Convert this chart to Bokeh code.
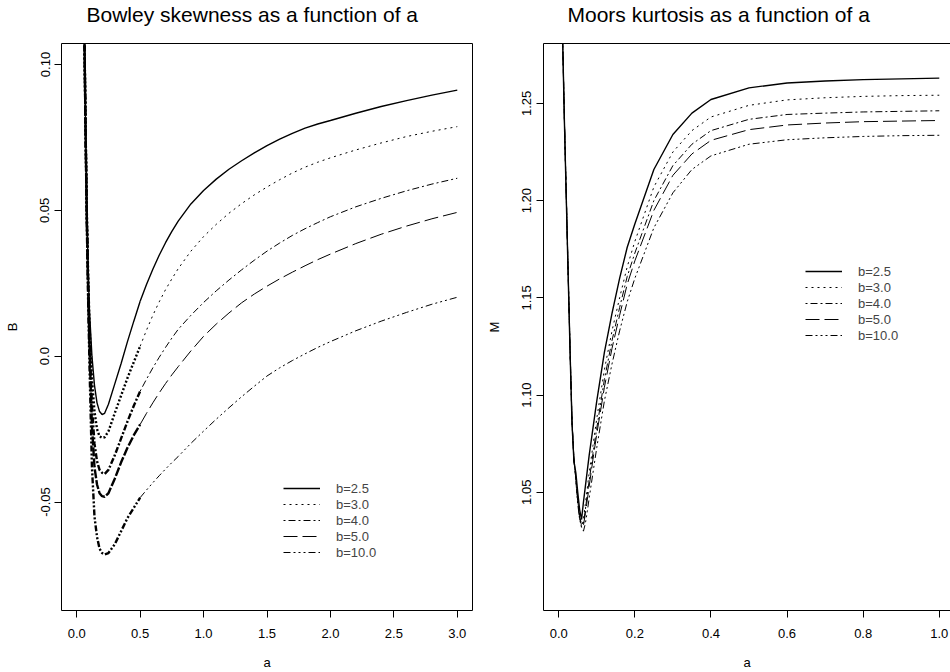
from bokeh.plotting import figure
from bokeh.models import Range1d, FixedTicker, Legend, LegendItem, LinearAxis, Title
from bokeh.layouts import row
from bokeh.embed import file_html
from bokeh.resources import INLINE

# ---------------- data ----------------
b_labels = ["b=2.5", "b=3.0", "b=4.0", "b=5.0", "b=10.0"]

# Bowley skewness panel
a_bowley = [0.06, 0.07, 0.08, 0.09, 0.10, 0.12, 0.14, 0.16, 0.18, 0.20, 0.22, 0.25,
            0.30, 0.35, 0.40, 0.45, 0.50, 0.55, 0.60, 0.65, 0.70, 0.75, 0.80, 0.90,
            1.00, 1.10, 1.20, 1.30, 1.40, 1.50, 1.60, 1.70, 1.80, 1.90, 2.00, 2.20,
            2.40, 2.60, 2.80, 3.00]
B_b25 = [0.112, 0.078, 0.050, 0.030, 0.016, 0.000, -0.010, -0.016, -0.019, -0.020, -0.0196, -0.0165,
         -0.0095, -0.0025, 0.0050, 0.0120, 0.0188, 0.0246, 0.0298, 0.0346, 0.0389, 0.0428, 0.0463, 0.0522,
         0.0568, 0.0607, 0.0641, 0.0670, 0.0697, 0.0722, 0.0744, 0.0764, 0.0782, 0.0796, 0.0808, 0.0833,
         0.0856, 0.0876, 0.0895, 0.0912]
B_b30 = [0.112, 0.078, 0.049, 0.028, 0.012, -0.008, -0.019, -0.025, -0.0275, -0.028, -0.0278, -0.0258,
         -0.0195, -0.0135, -0.0075, -0.0020, 0.0034, 0.0089, 0.0140, 0.0186, 0.0228, 0.0265, 0.0300, 0.0360,
         0.0410, 0.0452, 0.0490, 0.0523, 0.0553, 0.0580, 0.0605, 0.0628, 0.0648, 0.0665, 0.0680, 0.0707,
         0.0731, 0.0753, 0.0771, 0.0787]
B_b40 = [0.112, 0.077, 0.047, 0.025, 0.007, -0.017, -0.030, -0.036, -0.039, -0.040, -0.0404, -0.0390,
         -0.0340, -0.0282, -0.0224, -0.0170, -0.0120, -0.0079, -0.0040, -0.0004, 0.0030, 0.0062, 0.0092, 0.0140,
         0.0184, 0.0224, 0.0261, 0.0296, 0.0329, 0.0360, 0.0388, 0.0414, 0.0437, 0.0458, 0.0478, 0.0512,
         0.0541, 0.0567, 0.0590, 0.0610]
B_b50 = [0.112, 0.077, 0.046, 0.023, 0.004, -0.024, -0.038, -0.044, -0.047, -0.048, -0.0482, -0.0470,
         -0.0420, -0.0364, -0.0314, -0.0271, -0.0234, -0.0196, -0.0160, -0.0126, -0.0094, -0.0064, -0.0036, 0.0018,
         0.0068, 0.0110, 0.0148, 0.0183, 0.0213, 0.0240, 0.0265, 0.0288, 0.0310, 0.0331, 0.0350, 0.0386,
         0.0418, 0.0446, 0.0471, 0.0493]
B_b100 = [0.112, 0.076, 0.044, 0.019, -0.002, -0.038, -0.055, -0.062, -0.066, -0.0675, -0.068, -0.0675,
          -0.0645, -0.0600, -0.0555, -0.0520, -0.0485, -0.0459, -0.0434, -0.0410, -0.0387, -0.0365, -0.0344, -0.0299,
          -0.0257, -0.0216, -0.0177, -0.0139, -0.0103, -0.0068, -0.0040, -0.0015, 0.0008, 0.0030, 0.0050, 0.0087,
          0.0120, 0.0150, 0.0178, 0.0202]

# Moors kurtosis panel
a_moors = [0.010, 0.015, 0.020, 0.025, 0.030, 0.035, 0.040, 0.045, 0.050, 0.055, 0.060, 0.065,
           0.070, 0.075, 0.080, 0.090, 0.100, 0.120, 0.140, 0.160, 0.180, 0.200, 0.250, 0.300,
           0.350, 0.400, 0.500, 0.600, 0.700, 0.800, 0.900, 1.000]
M_b25 = [1.285, 1.240, 1.200, 1.160, 1.121, 1.085, 1.066, 1.060, 1.050, 1.041, 1.036, 1.045,
         1.053, 1.061, 1.069, 1.083, 1.097, 1.122, 1.142, 1.160, 1.176, 1.188, 1.216, 1.234,
         1.245, 1.252, 1.258, 1.2605, 1.2615, 1.2622, 1.2626, 1.2630]
M_b30 = [1.286, 1.241, 1.201, 1.161, 1.122, 1.086, 1.066, 1.058, 1.047, 1.037, 1.032, 1.036,
         1.044, 1.052, 1.060, 1.074, 1.088, 1.113, 1.133, 1.150, 1.166, 1.179, 1.207, 1.225,
         1.236, 1.243, 1.249, 1.2518, 1.2529, 1.2536, 1.2540, 1.2542]
M_b40 = [1.286, 1.241, 1.201, 1.161, 1.122, 1.086, 1.066, 1.057, 1.046, 1.037, 1.033, 1.034,
         1.041, 1.049, 1.056, 1.070, 1.083, 1.108, 1.128, 1.145, 1.161, 1.173, 1.200, 1.218,
         1.229, 1.236, 1.2418, 1.2443, 1.2450, 1.2456, 1.2459, 1.2462]
M_b50 = [1.286, 1.241, 1.201, 1.161, 1.122, 1.086, 1.067, 1.057, 1.045, 1.037, 1.034, 1.033,
         1.039, 1.046, 1.053, 1.067, 1.080, 1.104, 1.124, 1.141, 1.157, 1.169, 1.195, 1.213,
         1.224, 1.231, 1.2365, 1.2389, 1.2399, 1.2406, 1.2409, 1.2412]
M_b100 = [1.287, 1.242, 1.202, 1.162, 1.123, 1.087, 1.067, 1.056, 1.044, 1.036, 1.032, 1.030,
          1.034, 1.040, 1.047, 1.060, 1.073, 1.097, 1.116, 1.133, 1.148, 1.160, 1.186, 1.204,
          1.216, 1.223, 1.229, 1.2313, 1.2323, 1.2330, 1.2334, 1.2336]

bowley_xticks = [0.0, 0.5, 1.0, 1.5, 2.0, 2.5, 3.0]
bowley_xtick_labels = ["0.0", "0.5", "1.0", "1.5", "2.0", "2.5", "3.0"]
bowley_yticks = [-0.05, 0.0, 0.05, 0.10]
bowley_ytick_labels = ["-0.05", "0.0", "0.05", "0.10"]
moors_xticks = [0.0, 0.2, 0.4, 0.6, 0.8, 1.0]
moors_xtick_labels = ["0.0", "0.2", "0.4", "0.6", "0.8", "1.0"]
moors_yticks = [1.05, 1.10, 1.15, 1.20, 1.25]
moors_ytick_labels = ["1.05", "1.10", "1.15", "1.20", "1.25"]

# ---------------- styles ----------------
FONT = "Liberation Sans"
far_dash = ["solid", "2 4", "2 3 7 3", "14 5", "7 3 2 3 2 3 2 3"]
near_dash = ["solid", "2 2", "2 2 6 2", "9 2", "6 2 2 2 2 2"]
far_width = [1.4, 1.0, 1.0, 1.0, 1.0]
near_width = [1.4, 2.4, 2.4, 2.4, 2.4]

FRAME_W = 411
FRAME_H = 568
LB, TB, BB = 61, 42, 62
W1 = 482
W2 = 950 - W1
H = TB + FRAME_H + BB


def add_title(p, text, offset):
    # spacer panel between the frame and the title, then the title itself
    p.add_layout(Title(text=" ", text_font=FONT, text_font_size="14px", standoff=0), "above")
    p.add_layout(Title(text=text, text_font=FONT, text_font_size="21px", text_font_style="normal",
                       text_color="black", align="left", offset=offset,
                       vertical_align="bottom", standoff=0), "above")


def style(p, xlab, ylab, xt, xtl, yt, ytl):
    p.xgrid.visible = False
    p.ygrid.visible = False
    p.background_fill_color = "white"
    p.border_fill_color = "white"
    for ax in (p.xaxis[0], p.yaxis[0]):
        ax.major_tick_out = 7
        ax.major_tick_in = 0
        ax.minor_tick_out = 0
        ax.minor_tick_in = 0
        ax.minor_tick_line_color = None
        ax.major_tick_line_color = "black"
        ax.major_label_text_font = FONT
        ax.major_label_text_font_size = "13px"
        ax.major_label_text_color = "black"
        ax.axis_label_text_font = FONT
        ax.axis_label_text_font_size = "13px"
        ax.axis_label_text_font_style = "normal"
        ax.axis_label_text_color = "black"
    p.xaxis[0].ticker = FixedTicker(ticks=xt)
    p.xaxis[0].major_label_overrides = dict(zip(xt, xtl))
    p.xaxis[0].axis_label = xlab
    p.xaxis[0].major_label_standoff = 11
    p.xaxis[0].axis_label_standoff = 14
    p.yaxis[0].ticker = FixedTicker(ticks=yt)
    p.yaxis[0].major_label_overrides = dict(zip(yt, ytl))
    p.yaxis[0].axis_label = ylab
    p.yaxis[0].major_label_orientation = "vertical"
    p.yaxis[0].major_label_standoff = 5
    p.yaxis[0].axis_label_standoff = 18


def make_legend(items, loc):
    return Legend(items=items, location=loc, padding=0, margin=0, spacing=0,
                  glyph_width=37, glyph_height=16, label_height=16, label_standoff=16,
                  label_text_font=FONT, label_text_font_size="13px",
                  border_line_color=None, background_fill_alpha=0)


# ---------------- left panel ----------------
p1 = figure(width=W1, height=H, output_backend="svg", toolbar_location=None, title=None,
            x_range=Range1d(-0.12, 3.12), y_range=Range1d(-0.0872, 0.1072),
            min_border_left=LB, min_border_right=W1 - LB - FRAME_W,
            min_border_top=TB, min_border_bottom=BB)
style(p1, "a", "B", bowley_xticks, bowley_xtick_labels, bowley_yticks, bowley_ytick_labels)
p1.outline_line_color = "black"
p1.outline_line_width = 1
p1.outline_line_alpha = 1
p1.xaxis.axis_line_color = None
p1.yaxis.axis_line_color = None
add_title(p1, "Bowley skewness as a function of a", 25)

series_B = [B_b25, B_b30, B_b40, B_b50, B_b100]
items1 = []
for i, ys in enumerate(series_B):
    near_x = [a for a in a_bowley if a <= 0.5]
    near_y = [y for a, y in zip(a_bowley, ys) if a <= 0.5]
    far_x = [a for a in a_bowley if a >= 0.5]
    far_y = [y for a, y in zip(a_bowley, ys) if a >= 0.5]
    p1.line(near_x, near_y, line_color="black", line_width=near_width[i], line_dash=near_dash[i])
    r = p1.line(far_x, far_y, line_color="black", line_width=far_width[i], line_dash=far_dash[i])
    items1.append(LegendItem(label=b_labels[i], renderers=[r]))

p1.add_layout(make_legend(items1, (222, 50)))

# ---------------- right panel ----------------
FRAME_W2 = W2 - LB
px_per_unit = FRAME_W / 1.08
p2 = figure(width=W2, height=H, output_backend="svg", toolbar_location=None, title=None,
            x_range=Range1d(-0.04, -0.04 + FRAME_W2 / px_per_unit),
            y_range=Range1d(0.9892, 1.2808),
            min_border_left=LB, min_border_right=0,
            min_border_top=TB, min_border_bottom=BB)
style(p2, "a", "M", moors_xticks, moors_xtick_labels, moors_yticks, moors_ytick_labels)
p2.outline_line_color = None
p2.xaxis.axis_line_color = "black"
p2.yaxis.axis_line_color = "black"
top_ax = LinearAxis(ticker=FixedTicker(ticks=[]), axis_line_color="black",
                    major_tick_line_color=None, minor_tick_line_color=None,
                    major_tick_out=0, major_tick_in=0, minor_tick_out=0, minor_tick_in=0,
                    major_label_text_font_size="0px")
p2.add_layout(top_ax, "above")
add_title(p2, "Moors kurtosis as a function of a", 24)

series_M = [M_b25, M_b30, M_b40, M_b50, M_b100]
items2 = []
for i, ys in enumerate(series_M):
    r = p2.line(a_moors, ys, line_color="black", line_width=far_width[i], line_dash=far_dash[i])
    items2.append(LegendItem(label=b_labels[i], renderers=[r]))

p2.add_layout(make_legend(items2, (262, 267)))

layout = row(p1, p2)
open("out.html", "w").write(file_html(layout, INLINE))
